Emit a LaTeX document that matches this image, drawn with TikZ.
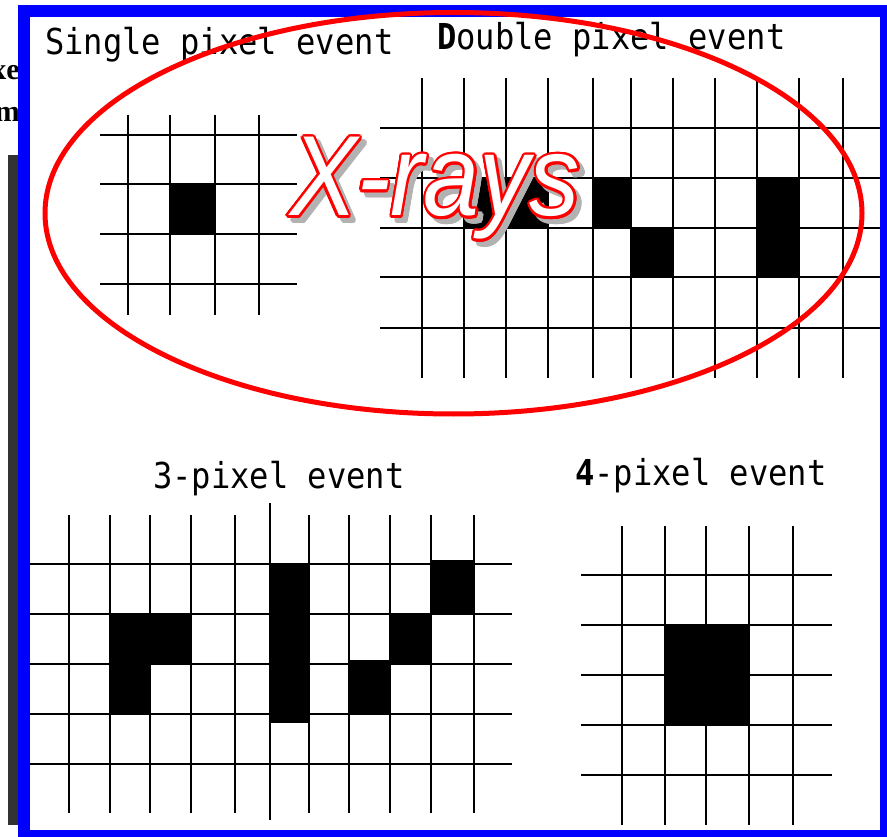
\documentclass[tikz,border=0pt]{standalone}
\usepackage{fontspec}
\usetikzlibrary{calc}
\newfontfamily\labfont{DejaVu Sans Mono}
\newfontfamily\xrfont{Liberation Sans}
\newfontfamily\serfont{Liberation Serif}
\definecolor{framblue}{RGB}{0,0,255}
\definecolor{xred}{RGB}{255,0,0}
\definecolor{bargray}{RGB}{51,51,51}
\newcommand{\hsc}[1]{\scalebox{0.9}[1]{#1}}
\newcommand{\xrtext}{\xrfont\itshape\fontsize{114}{114}\selectfont\scalebox{0.88}[1]{X-rays}}
\tikzset{
  gridline/.style={line width=2pt, draw=black},
  hit/.style={fill=black},
  lab/.style={anchor=base west, inner sep=0pt, font=\labfont\fontsize{35.7}{36}\selectfont},
  cuttext/.style={anchor=base east, inner sep=0pt, font=\serfont\bfseries\fontsize{30}{30}\selectfont},
  xr/.style={anchor=base west, inner sep=0pt},
}
\begin{document}
\begin{tikzpicture}[x=1pt,y=-1pt]
\useasboundingbox (0,0) rectangle (887,837);
\clip (0,0) rectangle (887,837);
\fill[white] (0,0) rectangle (887,837);

% cut-off text at the far left
\node[cuttext] (cut1) at (20,80) {xe};
\node[cuttext] (cut2) at (20,122) {m};
\fill[bargray] (8,155) rectangle (20,825);

% ---- single pixel event ----
\fill[hit] (170,184) rectangle (215,234);
\foreach \x in {128,170,215,259} \draw[gridline] (\x,115) -- (\x,315);
\foreach \y in {135,184,234,284} \draw[gridline] (100,\y) -- (297,\y);

% ---- double pixel event ----
\fill[hit] (464,178) rectangle (548,228);
\fill[hit] (592.7,178) rectangle (631,228);
\fill[hit] (631,228) rectangle (672.7,277);
\fill[hit] (756.7,178) rectangle (799,277);
\foreach \x in {421.7,464,506,548,592.7,631,672.7,715,756.7,799,843.3} \draw[gridline] (\x,78) -- (\x,378);
\foreach \y in {128,178,228,277,328} \draw[gridline] (380,\y) -- (887,\y);

% ---- 3-pixel event ----
\fill[hit] (110,614.3) rectangle (191.3,664.3);
\fill[hit] (110,664.3) rectangle (150.3,714.3);
\fill[hit] (270,564.3) rectangle (309,723);
\fill[hit] (431,560) rectangle (474,614.3);
\fill[hit] (390,614.3) rectangle (431,664.3);
\fill[hit] (349.3,660) rectangle (390,714.3);
\foreach \x in {69.3,110,150.3,191.3,235,309,349.3,390,431,474} \draw[gridline] (\x,515) -- (\x,813);
\draw[gridline] (270,503) -- (270,820);
\foreach \y in {564.3,614.3,664.3,714.3,764.3} \draw[gridline] (29,\y) -- (512,\y);

% ---- 4-pixel event ----
\fill[hit] (664.7,625) rectangle (749,725);
\foreach \x in {622.3,664.7,706,749,793.3} \draw[gridline] (\x,526) -- (\x,825);
\foreach \y in {575,625,675,725,775} \draw[gridline] (581,\y) -- (832,\y);

% ---- labels ----
\node[lab] (lsingle) at (45,55) {\hsc{Single pixel event}};
\node[lab] (ldouble) at (437,50) {\hsc{{\bfseries D}ouble pixel event}};
\node[lab] (lthree) at (153,488) {\hsc{3-pixel event}};
\node[lab] (lfour) at (575,485) {\hsc{{\bfseries 4}-pixel event}};

% ---- blue frame ----
\draw[framblue, line width=12pt] (24,11.5) rectangle (886,836);

% ---- red ellipse ----
\draw[xred, line width=5pt] (453.5,213.25) ellipse [x radius=408.5, y radius=200.75];

% ---- X-rays ----
\foreach \a in {0,20,...,340}
  \node[xr, text=gray!60] (xs\a) at ($(295,221)+(\a:2.4)$) {\xrtext};
\foreach \a in {0,20,...,340}
  \node[xr, text=xred] (xo\a) at ($(290,216)+(\a:2.4)$) {\xrtext};
\node[xr, text=white] (xrays) at (290,216) {\xrtext};
\end{tikzpicture}
\end{document}
